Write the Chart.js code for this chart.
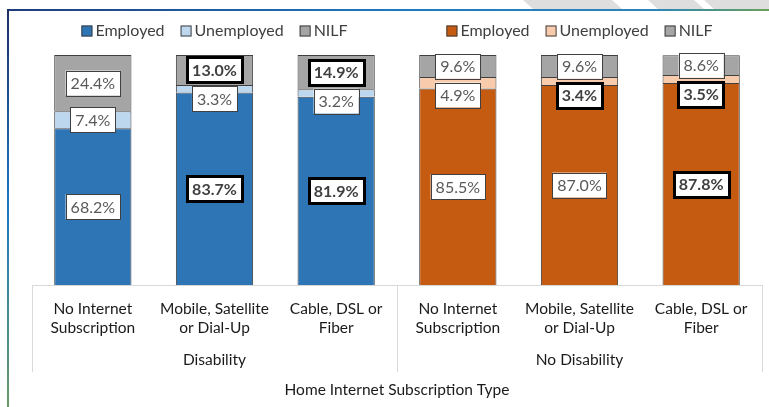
<!DOCTYPE html>
<html>
<head>
<meta charset="utf-8">
<script src="https://cdn.jsdelivr.net/npm/chart.js@4.4.1/dist/chart.umd.min.js"></script>
<style>
  body { margin: 0; background: #fff; }
  canvas { display: block; }
</style>
</head>
<body>
<canvas id="chart" width="769" height="407"></canvas>
<script>
// categories (two-line tick labels) and groups
const categories = [
    ["No Internet", "Subscription"],
    ["Mobile, Satellite", "or Dial-Up"],
    ["Cable, DSL or", "Fiber"],
    ["No Internet", "Subscription"],
    ["Mobile, Satellite", "or Dial-Up"],
    ["Cable, DSL or", "Fiber"],
];
const groups = ["Disability", "No Disability"];
const seriesNames = ["Employed", "Unemployed", "NILF"];
const axisTitle = "Home Internet Subscription Type";

// Disability (percent)
const disEmployed = [68.2, 83.7, 81.9];
const disUnemployed = [7.4, 3.3, 3.2];
const disNilf = [24.4, 13.0, 14.9];

// No disability (percent)
const noDisEmployed = [85.5, 87.0, 87.8];
const noDisUnemployed = [4.9, 3.4, 3.5];
const noDisNilf = [9.6, 9.6, 8.6];

// labels shown with a heavy box (significant differences)
const disEmployedSig = [false, true, true];
const disUnemployedSig = [false, false, false];
const disNilfSig = [false, true, true];
const noDisEmployedSig = [false, false, true];
const noDisUnemployedSig = [false, true, true];
const noDisNilfSig = [false, false, false];

const FONT = "Lato, 'Open Sans', sans-serif";
const blank = [null, null, null];

//Function builds one stacked dataset for a group (left or right half)
const makeSeries = (label, values, sig, color, group, left) => ({
    label: label,
    data: left ? values.concat(blank) : blank.concat(values),
    sig: left ? sig.concat(blank) : blank.concat(sig),
    group: group,
    backgroundColor: color,
    borderColor: "#404040",
    borderWidth: 1,
    stack: "s",
});

const datasets = [
    makeSeries(seriesNames[0], disEmployed, disEmployedSig, "#2E75B6", 0, true),
    makeSeries(seriesNames[1], disUnemployed, disUnemployedSig, "#BDD7EE", 0, true),
    makeSeries(seriesNames[2], disNilf, disNilfSig, "#A5A5A5", 0, true),
    makeSeries(seriesNames[0], noDisEmployed, noDisEmployedSig, "#C55A11", 1, false),
    makeSeries(seriesNames[1], noDisUnemployed, noDisUnemployedSig, "#F8CBAD", 1, false),
    makeSeries(seriesNames[2], noDisNilf, noDisNilfSig, "#A5A5A5", 1, false),
];

//Plugin: page frame and faint watermark
const framePlugin = {
    id: "frame",
    beforeDraw: (chart) => {
        const c = chart.ctx;
        c.save();
        c.fillStyle = "#ffffff";
        c.fillRect(0, 0, chart.width, chart.height);
        // watermark bits above the frame
        c.fillStyle = "#dedede";
        const bands = [[523, 612], [648, 694], [704, 769]];
        bands.forEach((b) => {
            c.beginPath();
            c.moveTo(b[0], 0);
            c.lineTo(b[1], 0);
            c.lineTo(b[1] + 10, 9);
            c.lineTo(b[0] + 10, 9);
            c.closePath();
            c.fill();
        });
        // top rule
        let g = c.createLinearGradient(7, 0, chart.width, 0);
        g.addColorStop(0, "#1f3c7a");
        g.addColorStop(0.5, "#1e78c2");
        g.addColorStop(0.85, "#2a86b8");
        g.addColorStop(1, "#6aa05a");
        c.fillStyle = g;
        c.fillRect(7, 9, chart.width - 7, 2);
        // left rule
        g = c.createLinearGradient(0, 9, 0, chart.height);
        g.addColorStop(0, "#1f3064");
        g.addColorStop(0.5, "#1e78c2");
        g.addColorStop(1, "#6a9a66");
        c.fillStyle = g;
        c.fillRect(7, 9, 2, chart.height - 9);
        c.restore();
    },
};

//Plugin: two legends, one over each half
const legendPlugin = {
    id: "twoLegends",
    afterDraw: (chart) => {
        const c = chart.ctx;
        const x = chart.scales.x;
        c.save();
        c.font = "16px " + FONT;
        c.textBaseline = "middle";
        [0, 1].forEach((grp) => {
            const items = chart.data.datasets.filter((d) => d.group === grp);
            const box = 11, gapBox = 3, gapItem = 16;
            let total = 0;
            items.forEach((d, k) => {
                total += box + gapBox + c.measureText(d.label).width;
                if (k < items.length - 1) total += gapItem;
            });
            const center = (x.getPixelForValue(grp * 3) + x.getPixelForValue(grp * 3 + 2)) / 2;
            let px = center - total / 2;
            const py = 31;
            items.forEach((d) => {
                c.fillStyle = d.backgroundColor;
                c.fillRect(px, py - box / 2, box, box);
                c.strokeStyle = "#404040";
                c.lineWidth = 1;
                c.strokeRect(px + 0.5, py - box / 2 + 0.5, box - 1, box - 1);
                px += box + gapBox;
                c.fillStyle = "#404040";
                c.textAlign = "left";
                c.fillText(d.label, px, py);
                px += c.measureText(d.label).width + gapItem;
            });
        });
        c.restore();
    },
};

//Plugin: group dividers and group names under the category axis
const groupAxisPlugin = {
    id: "groupAxis",
    afterDraw: (chart) => {
        const c = chart.ctx;
        const x = chart.scales.x;
        const area = chart.chartArea;
        const half = (x.getPixelForValue(1) - x.getPixelForValue(0)) / 2;
        c.save();
        c.strokeStyle = "#d9d9d9";
        c.lineWidth = 1;
        [0, 3, 6].forEach((i) => {
            const px = Math.round(i < 6 ? x.getPixelForValue(i) - half : x.getPixelForValue(5) + half) + 0.5;
            c.beginPath();
            c.moveTo(px, area.bottom);
            c.lineTo(px, area.bottom + 87);
            c.stroke();
        });
        c.fillStyle = "#1a1a1a";
        c.font = "15.5px " + FONT;
        c.textAlign = "center";
        c.textBaseline = "middle";
        groups.forEach((name, grp) => {
            const center = (x.getPixelForValue(grp * 3) + x.getPixelForValue(grp * 3 + 2)) / 2;
            c.fillText(name, center, area.bottom + 75);
        });
        c.restore();
    },
};

//Plugin: boxed value labels, pushed apart when a segment is too thin
const labelPlugin = {
    id: "boxLabels",
    afterDatasetsDraw: (chart) => {
        const c = chart.ctx;
        const h = 25, gap = 4;
        c.save();
        c.textAlign = "center";
        c.textBaseline = "middle";
        chart.data.labels.forEach((_, i) => {
            let items = [];
            chart.data.datasets.forEach((d, di) => {
                const v = d.data[i];
                if (v === null) return;
                const bar = chart.getDatasetMeta(di).data[i];
                items.push({ text: v.toFixed(1) + "%", sig: d.sig[i], x: bar.x, cy: (bar.y + bar.base) / 2 });
            });
            items.sort((a, b) => a.cy - b.cy);
            let prevBottom = -Infinity;
            items.forEach((it) => {
                const y = Math.max(it.cy, prevBottom + gap + h / 2);
                prevBottom = y + h / 2;
                c.font = (it.sig ? "bold " : "") + "16px " + FONT;
                const w = c.measureText(it.text).width + 10;
                c.fillStyle = "#ffffff";
                c.fillRect(it.x - w / 2, y - h / 2, w, h);
                if (it.sig) {
                    c.strokeStyle = "#000000";
                    c.lineWidth = 3;
                } else {
                    c.strokeStyle = "#404040";
                    c.lineWidth = 1;
                }
                c.strokeRect(Math.round(it.x - w / 2) + 0.5, Math.round(y - h / 2) + 0.5, Math.round(w), h);
                c.fillStyle = it.sig ? "#404040" : "#595959";
                c.fillText(it.text, it.x, y + 1);
            });
        });
        c.restore();
    },
};

const chart = new Chart(document.getElementById("chart"), {
    type: "bar",
    data: { labels: categories, datasets: datasets },
    options: {
        responsive: false,
        animation: false,
        layout: { padding: { top: 55, left: 32, right: 7, bottom: 0 } },
        datasets: { bar: { categoryPercentage: 1, barPercentage: 0.635 } },
        plugins: { legend: { display: false }, tooltip: { enabled: false } },
        scales: {
            x: {
                stacked: true,
                grid: { display: false },
                border: { display: true, color: "#d9d9d9" },
                ticks: {
                    autoSkip: false,
                    maxRotation: 0,
                    padding: 6,
                    color: "#1a1a1a",
                    font: { family: FONT, size: 15.5, lineHeight: 1.23 },
                },
                title: {
                    display: true,
                    text: axisTitle,
                    color: "#1a1a1a",
                    font: { family: FONT, size: 15.5, lineHeight: 1.2 },
                    padding: { top: 37, bottom: 8 },
                },
            },
            y: { stacked: true, display: false, min: 0, max: 100 },
        },
    },
    plugins: [framePlugin, labelPlugin, groupAxisPlugin, legendPlugin],
});
</script>
</body>
</html>
